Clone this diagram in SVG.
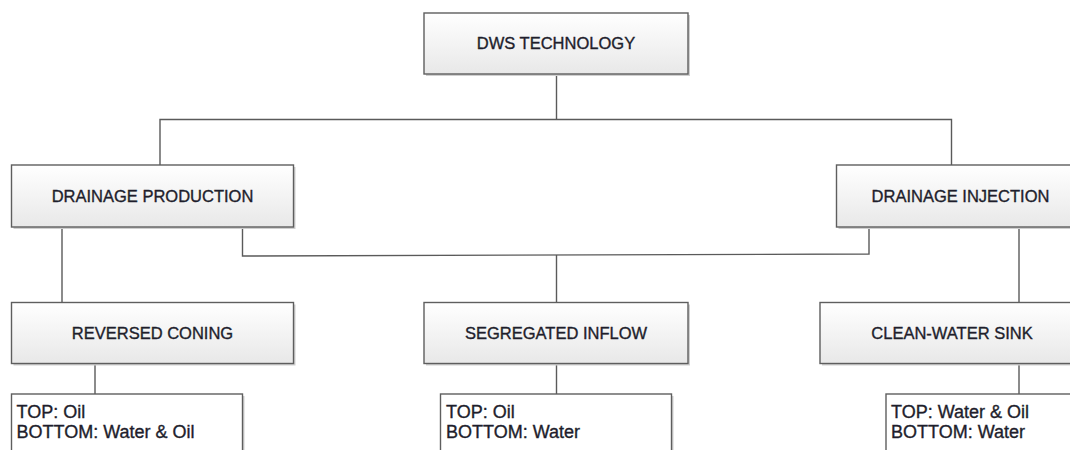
<svg xmlns="http://www.w3.org/2000/svg" width="1070" height="450" viewBox="0 0 1070 450">
<defs>
<linearGradient id="g" x1="0" y1="0" x2="0" y2="1">
<stop offset="0" stop-color="#ffffff"/>
<stop offset="1" stop-color="#e8e8e8"/>
</linearGradient>
<style>
.box{fill:url(#g);stroke:#5e5e5e;stroke-width:1.4}
.sh{fill:#cfcfcf}
.pl{fill:#ffffff;stroke:#5e5e5e;stroke-width:1.4}
.t{font-family:"Liberation Sans",Arial,sans-serif;font-size:16.5px;fill:#1e1e2c;stroke:#1e1e2c;stroke-width:0.35;text-anchor:middle}
.b{font-family:"Liberation Sans",Arial,sans-serif;font-size:18px;fill:#1e1e2c;stroke:#1e1e2c;stroke-width:0.35}
.c{fill:none;stroke:#5a5a5a;stroke-width:1.4}
</style>
</defs>
<rect width="1070" height="450" fill="#ffffff"/>
<g id="connectors">
<path class="c" d="M556.5 74 V119.5"/>
<path class="c" d="M160 165 V119.5 H951.5 V165"/>
<path class="c" d="M62 227 V302.5"/>
<path class="c" d="M242.5 227 V256 L869 254 V227"/>
<path class="c" d="M556.5 255 V302.5"/>
<path class="c" d="M1019 227 V302.5"/>
<path class="c" d="M95 363.5 V394"/>
<path class="c" d="M556.5 363.5 V394"/>
<path class="c" d="M1019 363.5 V394"/>
</g>
<g id="dws">
<rect class="sh" x="426" y="15" width="264" height="61"/>
<rect class="box" x="424" y="13" width="264" height="61"/>
<text class="t" x="556" y="49">DWS TECHNOLOGY</text>
</g>
<g id="drainage-production">
<rect class="sh" x="13.5" y="167" width="282" height="62"/>
<rect class="box" x="11.5" y="165" width="282" height="62"/>
<text class="t" x="152.5" y="201.5">DRAINAGE PRODUCTION</text>
</g>
<g id="drainage-injection">
<rect class="sh" x="838.5" y="167" width="248" height="62"/>
<rect class="box" x="836.5" y="165" width="248" height="62"/>
<text class="t" x="960.5" y="201.5">DRAINAGE INJECTION</text>
</g>
<g id="reversed-coning">
<rect class="sh" x="13.5" y="304.5" width="282" height="61"/>
<rect class="box" x="11.5" y="302.5" width="282" height="61"/>
<text class="t" x="152.5" y="338.5">REVERSED CONING</text>
</g>
<g id="segregated-inflow">
<rect class="sh" x="426" y="304.5" width="264" height="61"/>
<rect class="box" x="424" y="302.5" width="264" height="61"/>
<text class="t" x="556" y="338.5">SEGREGATED INFLOW</text>
</g>
<g id="clean-water-sink">
<rect class="sh" x="822" y="304.5" width="264" height="61"/>
<rect class="box" x="820" y="302.5" width="264" height="61"/>
<text class="t" x="952" y="338.5">CLEAN-WATER SINK</text>
</g>
<g id="rc-detail">
<rect class="sh" x="13.5" y="396" width="231" height="70"/>
<rect class="pl" x="11.5" y="394" width="231" height="70"/>
<text class="b" x="16.5" y="418">TOP: Oil</text>
<text class="b" x="16.5" y="438">BOTTOM: Water &amp; Oil</text>
</g>
<g id="si-detail">
<rect class="sh" x="442.5" y="396" width="231" height="70"/>
<rect class="pl" x="440.5" y="394" width="231" height="70"/>
<text class="b" x="446" y="418">TOP: Oil</text>
<text class="b" x="446" y="438">BOTTOM: Water</text>
</g>
<g id="cws-detail">
<rect class="sh" x="888" y="396" width="231" height="70"/>
<rect class="pl" x="886" y="394" width="231" height="70"/>
<text class="b" x="891" y="418">TOP: Water &amp; Oil</text>
<text class="b" x="891" y="438">BOTTOM: Water</text>
</g>
</svg>
